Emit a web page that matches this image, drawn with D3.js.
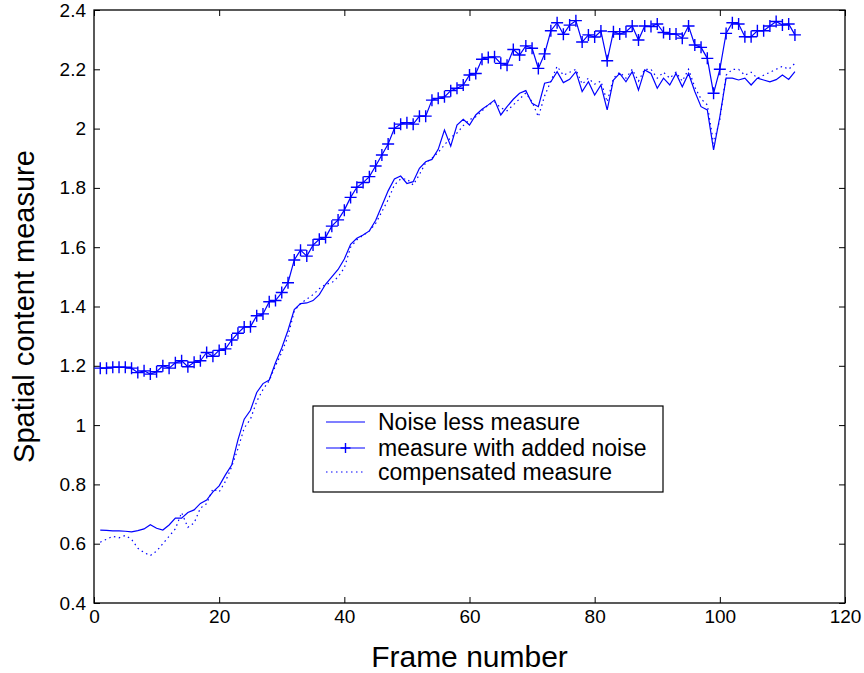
<!DOCTYPE html>
<html><head><meta charset="utf-8">
<script src="https://cdn.jsdelivr.net/npm/d3@7"></script>
<style>body{margin:0;background:#fff}svg{display:block;font-family:"Liberation Sans",Arial,sans-serif}</style>
</head><body><svg id="c" width="864" height="673"></svg>
<script>
const frames = d3.range(1, 113);
const noiseLess = [0.646,0.645,0.643,0.643,0.642,0.640,0.644,0.650,0.664,0.652,
0.646,0.663,0.686,0.686,0.705,0.714,0.736,0.747,0.775,0.795,
0.832,0.865,0.95,1.02,1.05,1.11,1.14,1.152,1.21,1.26,
1.32,1.39,1.41,1.412,1.42,1.44,1.475,1.50,1.525,1.56,
1.61,1.63,1.641,1.655,1.69,1.74,1.79,1.83,1.84,1.815,
1.821,1.866,1.888,1.896,1.93,1.995,1.941,2.012,2.031,2.012,
2.046,2.065,2.08,2.096,2.046,2.074,2.099,2.119,2.128,2.085,
2.074,2.153,2.158,2.192,2.155,2.166,2.192,2.125,2.158,2.113,
2.147,2.063,2.164,2.186,2.158,2.192,2.130,2.198,2.186,2.136,
2.17,2.147,2.186,2.141,2.186,2.125,2.074,2.063,1.928,2.04,
2.17,2.17,2.164,2.17,2.147,2.17,2.164,2.158,2.165,2.181,
2.166,2.192];
const withNoise = [1.192,1.192,1.195,1.195,1.195,1.192,1.177,1.183,1.172,1.18,
1.20,1.192,1.21,1.217,1.197,1.212,1.217,1.245,1.232,1.252,
1.257,1.287,1.31,1.331,1.332,1.369,1.375,1.416,1.42,1.447,
1.48,1.557,1.59,1.57,1.607,1.627,1.633,1.671,1.692,1.725,
1.768,1.802,1.818,1.838,1.874,1.911,1.948,2.001,2.015,2.02,
2.015,2.042,2.042,2.096,2.102,2.107,2.128,2.136,2.147,2.181,
2.186,2.234,2.24,2.242,2.22,2.214,2.267,2.248,2.279,2.271,
2.203,2.252,2.33,2.357,2.318,2.349,2.364,2.292,2.316,2.309,
2.329,2.229,2.327,2.319,2.327,2.346,2.299,2.346,2.344,2.353,
2.324,2.319,2.319,2.305,2.346,2.282,2.274,2.237,2.119,2.2,
2.321,2.357,2.353,2.31,2.31,2.33,2.33,2.346,2.361,2.349,
2.353,2.316];
const compensated = [0.605,0.615,0.625,0.62,0.628,0.615,0.585,0.57,0.56,0.575,
0.6,0.625,0.65,0.705,0.655,0.67,0.72,0.735,0.785,0.775,
0.81,0.86,0.92,0.99,1.02,1.08,1.12,1.15,1.2,1.245,
1.30,1.385,1.41,1.425,1.44,1.46,1.475,1.48,1.5,1.53,
1.6,1.625,1.64,1.655,1.68,1.72,1.76,1.81,1.83,1.83,
1.81,1.845,1.885,1.9,1.92,1.945,1.97,1.985,2.01,2.03,
2.04,2.06,2.08,2.09,2.07,2.06,2.08,2.1,2.12,2.09,
2.04,2.11,2.16,2.21,2.18,2.19,2.2,2.15,2.17,2.15,
2.16,2.09,2.17,2.19,2.17,2.2,2.16,2.2,2.2,2.17,
2.19,2.17,2.19,2.16,2.2,2.14,2.1,2.08,1.95,2.03,
2.18,2.2,2.2,2.18,2.19,2.17,2.18,2.19,2.2,2.21,
2.2,2.22];
const xTicks = [0,20,40,60,80,100,120];
const yTicks = [0.4,0.6,0.8,1,1.2,1.4,1.6,1.8,2,2.2,2.4];
const legendLabels = ["Noise less measure","measure with added noise","compensated measure"];

const svg = d3.select("#c");
const L = 94, R = 845, T = 10, B = 603;
const x = d3.scaleLinear().domain([0,120]).range([L,R]);
const y = d3.scaleLinear().domain([0.4,2.4]).range([B,T]);
const blue = "#0000ff";

const fmt = d => String(+d.toFixed(1));
const styleText = g => g.selectAll("text").attr("font-size",19).attr("font-family","Liberation Sans, Arial").attr("fill","#000");
svg.append("g").attr("transform",`translate(0,${B})`)
  .call(d3.axisBottom(x).tickValues(xTicks).tickSize(-6).tickPadding(7).tickFormat(fmt))
  .call(g=>{g.select(".domain").remove();styleText(g);});
svg.append("g").attr("transform",`translate(0,${T})`)
  .call(d3.axisTop(x).tickValues(xTicks).tickSize(-6).tickFormat(""))
  .call(g=>g.select(".domain").remove());
svg.append("g").attr("transform",`translate(${L},0)`)
  .call(d3.axisLeft(y).tickValues(yTicks).tickSize(-6).tickPadding(8).tickFormat(fmt))
  .call(g=>{g.select(".domain").remove();styleText(g);});
svg.append("g").attr("transform",`translate(${R},0)`)
  .call(d3.axisRight(y).tickValues(yTicks).tickSize(-6).tickFormat(""))
  .call(g=>g.select(".domain").remove());
svg.append("rect").attr("x",L).attr("y",T).attr("width",R-L).attr("height",B-T)
  .attr("fill","none").attr("stroke","#000").attr("stroke-width",1.3);

const line = d3.line().x((d,i)=>x(frames[i])).y(d=>y(d));
svg.append("path").datum(noiseLess).attr("d",line).attr("fill","none").attr("stroke",blue).attr("stroke-width",1.2);
svg.append("path").datum(compensated).attr("d",line).attr("fill","none").attr("stroke",blue).attr("stroke-width",1.2).attr("stroke-dasharray","1.5,3.5");
svg.append("path").datum(withNoise).attr("d",line).attr("fill","none").attr("stroke",blue).attr("stroke-width",1.2);
const plus = (g, cx, cy, s) => g.append("path").attr("d",`M${cx-s},${cy}H${cx+s}M${cx},${cy-s}V${cy+s}`).attr("stroke",blue).attr("stroke-width",1.4);
const mk = svg.append("g");
withNoise.forEach((v,i)=>plus(mk, x(frames[i]), y(v), 6));

svg.append("text").attr("x",(L+R)/2).attr("y",667).attr("text-anchor","middle").attr("font-size",30).text("Frame number");
svg.append("text").attr("transform",`translate(34,${(T+B)/2}) rotate(-90)`).attr("text-anchor","middle").attr("font-size",29).text("Spatial content measure");

const lg = svg.append("g");
lg.append("rect").attr("x",313).attr("y",406).attr("width",350).attr("height",86).attr("fill","#fff").attr("stroke","#000").attr("stroke-width",1.2);
const rows = [422,448,472];
legendLabels.forEach((t,i)=>{
  const ln = lg.append("line").attr("x1",326).attr("x2",365).attr("y1",rows[i]).attr("y2",rows[i]).attr("stroke",blue).attr("stroke-width",1.2);
  if(i===2) ln.attr("stroke-dasharray","1.5,3.5");
  if(i===1) plus(lg,345.5,rows[i],5);
  lg.append("text").attr("x",378).attr("y",rows[i]+8).attr("font-size",23).text(t);
});
</script></body></html>
